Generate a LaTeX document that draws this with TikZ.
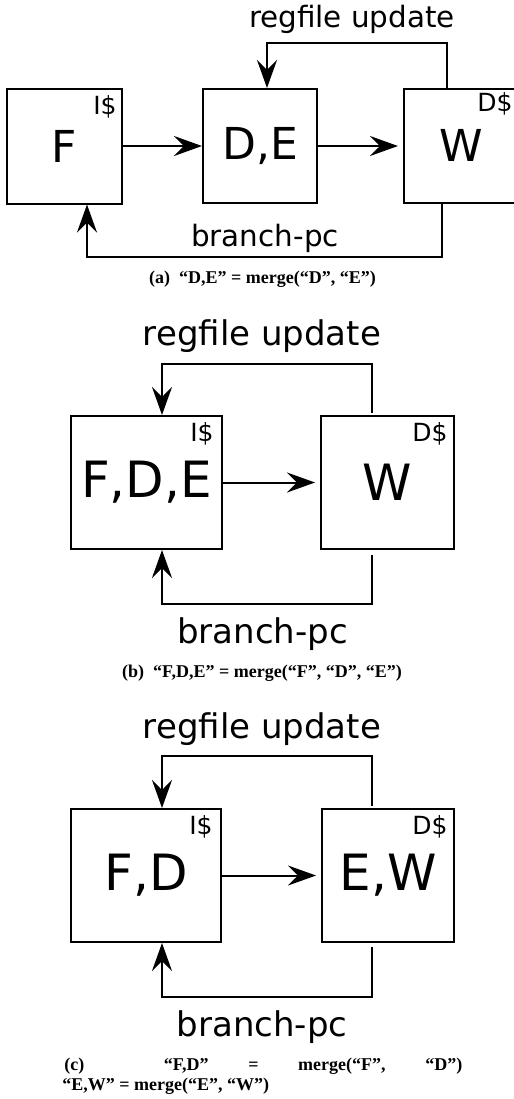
\documentclass[tikz,border=0pt]{standalone}
\usepackage{fontspec}
\setmainfont{DejaVu Sans}
\newfontfamily\capfont{Liberation Serif}
\usetikzlibrary{arrows.meta}

\begin{document}
\begin{tikzpicture}[
  x=0.5pt, y=-0.5pt,
  stage/.style={draw, line width=1pt, inner sep=0pt},
  stagea/.style={stage, font=\fontsize{22}{25}\selectfont},
  stageb/.style={stage, font=\fontsize{25}{28}\selectfont},
  cache/.style={anchor=north east, inner sep=0pt, font=\fontsize{12.5}{13}\selectfont},
  flow/.style={line width=1pt, -{Stealth[length=14pt, width=10pt, inset=5pt]}},
  looplabela/.style={anchor=base, font=\fontsize{14.7}{16}\selectfont},
  looplabelb/.style={anchor=base, font=\fontsize{17}{19}\selectfont},
  subcap/.style={anchor=base, inner sep=0pt, font=\capfont\bfseries\fontsize{9}{11}\selectfont}
]
\useasboundingbox (0,0) rectangle (514,1099);

% (a): F | D,E | W
\node[stagea, minimum width=57.5pt, minimum height=57.5pt] (a-F) at (64.5,146) {F};
\node[stagea, minimum width=57pt, minimum height=57pt] (a-DE) at (260,146) {D,E};
\node[stagea, minimum width=57.5pt, minimum height=57pt] (a-W) at (461.5,145.5) {W};
\node[cache] (a-I) at ([xshift=-3pt, yshift=-4pt]a-F.north east) {I\$};
\node[cache] (a-D) at ([xshift=-3.5pt, yshift=-2.5pt]a-W.north east) {D\$};
\draw[flow] (a-F) -- (a-DE);
\draw[flow, shorten >=2.5pt] (a-DE) -- (a-DE -| a-W.west);
\coordinate (a-ur) at (447,43);
\coordinate (a-ul) at (267,43);
\draw[flow] (a-ur |- a-W.north) -- (a-ur) -- (a-ul) -- (a-ul |- a-DE.north);
\coordinate (a-br) at (442,257);
\coordinate (a-bl) at (87,257);
\draw[flow] (a-br |- a-W.south) -- (a-br) -- (a-bl) -- (a-bl |- a-F.south);
\node[looplabela] (a-reg) at (352,27) {regfile update};
\node[looplabela] (a-pc) at (265,246) {branch-pc};
\node[subcap] (a-cap) at (262.5,283) {(a)\ \ “D,E” = merge(“D”, “E”)};

% (b): F,D,E | W
\node[stageb, minimum width=75.5pt, minimum height=66.5pt] (b-FDE) at (146.5,482.5) {F,D,E};
\node[stageb, minimum width=66.5pt, minimum height=66.5pt] (b-W) at (387.5,482.5) {W};
\node[cache] (b-I) at ([xshift=-4.5pt, yshift=-3.5pt]b-FDE.north east) {I\$};
\node[cache] (b-D) at ([xshift=-3.5pt, yshift=-3.5pt]b-W.north east) {D\$};
\draw[flow, shorten >=2.5pt] (b-FDE) -- (b-W);
\coordinate (b-ur) at (372,364);
\coordinate (b-ul) at (162,364);
\draw[flow, shorten <=1pt] (b-ur |- b-W.north) -- (b-ur) -- (b-ul) -- (b-ul |- b-FDE.north);
\coordinate (b-br) at (372,604);
\coordinate (b-bl) at (162,604);
\draw[flow, shorten <=2.5pt] (b-br |- b-W.south) -- (b-br) -- (b-bl) -- (b-bl |- b-FDE.south);
\node[looplabelb] (b-reg) at (262,345) {regfile update};
\node[looplabelb] (b-pc) at (262.5,643) {branch-pc};
\node[subcap] (b-cap) at (262,677) {(b)\ \ “F,D,E” = merge(“F”, “D”, “E”)};

% (c): F,D | E,W
\node[stageb, minimum width=75pt, minimum height=66.5pt] (c-FD) at (146,875.5) {F,D};
\node[stageb, minimum width=66pt, minimum height=66.5pt] (c-EW) at (388,875.5) {E,W};
\node[cache] (c-I) at ([xshift=-4.5pt, yshift=-3.5pt]c-FD.north east) {I\$};
\node[cache] (c-D) at ([xshift=-3.5pt, yshift=-3.5pt]c-EW.north east) {D\$};
\draw[flow, shorten >=2.5pt] (c-FD) -- (c-EW);
\coordinate (c-ur) at (372,756);
\coordinate (c-ul) at (162,756);
\draw[flow, shorten <=1pt] (c-ur |- c-EW.north) -- (c-ur) -- (c-ul) -- (c-ul |- c-FD.north);
\coordinate (c-br) at (372,997);
\coordinate (c-bl) at (162,997);
\draw[flow, shorten <=2pt] (c-br |- c-EW.south) -- (c-br) -- (c-bl) -- (c-bl |- c-FD.south);
\node[looplabelb] (c-reg) at (262,738) {regfile update};
\node[looplabelb] (c-pc) at (262,1036) {branch-pc};
\node[subcap, anchor=base west] (c-cap) at (64,1070) {\makebox[199pt][s]{(c)\hfill\hfill “F,D”\hfill=\hfill merge(“F”,\hfill “D”)}};
\node[subcap, anchor=base west] (c-cap2) at (62,1090) {“E,W” = merge(“E”, “W”)};

\end{tikzpicture}
\end{document}
